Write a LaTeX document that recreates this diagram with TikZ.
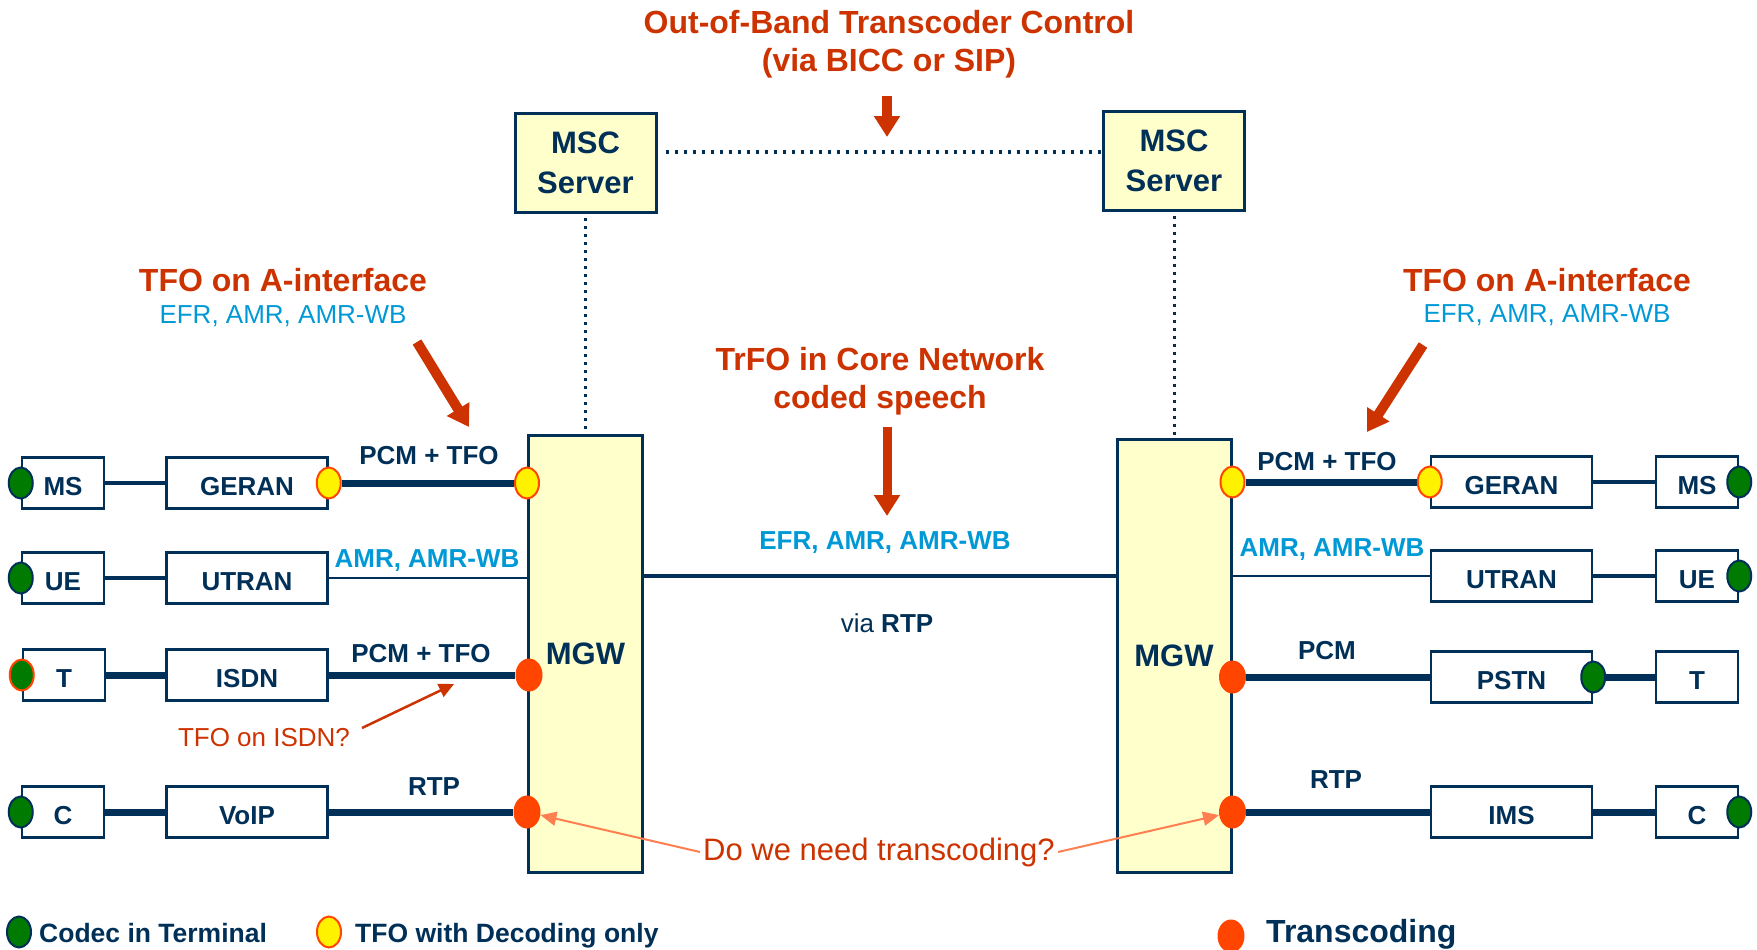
\documentclass[tikz,border=0pt]{standalone}
\usepackage{fontspec}
\setmainfont{Liberation Sans}
\usetikzlibrary{shapes.geometric,arrows.meta}

\definecolor{navy}{RGB}{0,48,87}
\definecolor{hdred}{RGB}{204,51,0}
\definecolor{codecblue}{RGB}{0,153,214}
\definecolor{paleyel}{RGB}{255,255,204}
\definecolor{termgreen}{RGB}{0,122,0}
\definecolor{tcorange}{RGB}{255,69,0}
\definecolor{hintcoral}{RGB}{255,127,80}

\begin{document}
\begin{tikzpicture}[x=1pt,y=-1pt,
  box/.style={draw=navy, line width=2.5pt, fill=white, inner sep=0pt, text=navy,
    font=\bfseries\fontsize{26}{30}\selectfont, minimum height=51pt,
    text height=25pt, text depth=0pt},
  smallbox/.style={box, minimum width=82pt},
  widebox/.style={box, minimum width=161pt},
  server/.style={draw=navy, line width=3pt, fill=paleyel, text=navy,
    font=\bfseries\fontsize{31}{40}\selectfont, align=center,
    minimum width=141pt, minimum height=99pt, inner sep=0pt},
  gateway/.style={draw=navy, line width=3pt, fill=paleyel, text=navy,
    font=\bfseries\fontsize{31}{36}\selectfont, minimum width=114pt, inner sep=0pt},
  codecdot/.style={ellipse, draw=navy, line width=2pt, fill=termgreen,
    minimum width=24pt, minimum height=31pt, inner sep=0pt},
  tfodot/.style={ellipse, draw=tcorange, line width=2pt, fill=yellow,
    minimum width=24pt, minimum height=31pt, inner sep=0pt},
  tcdot/.style={ellipse, fill=tcorange, minimum width=27pt, minimum height=33pt, inner sep=0pt},
  lbl/.style={text=navy, font=\bfseries\fontsize{26}{30}\selectfont, inner sep=0pt,
    text height=18.7pt, text depth=0pt},
  codeclbl/.style={lbl, text=codecblue},
  heading/.style={text=hdred, font=\bfseries\fontsize{32}{38}\selectfont, align=center, inner sep=0pt},
  codecnote/.style={text=codecblue, font=\fontsize{26}{30}\selectfont, inner sep=0pt},
  note/.style={text=hdred, font=\fontsize{26}{30}\selectfont, inner sep=0pt},
  heavy/.style={navy, line width=7pt},
  medium/.style={navy, line width=4pt},
  fine/.style={navy, line width=2pt},
  trunk/.style={navy, line width=3.5pt},
  sigdots/.style={navy, line width=3.5pt, dash pattern=on 3.5pt off 5.5pt},
  vdots/.style={navy, line width=3pt, dash pattern=on 2.5pt off 5.5pt},
  bigarrow/.style={hdred, line width=10pt, -{Triangle[width=25pt,length=21pt]}},
  hint/.style={hintcoral, line width=2pt, -{Triangle[width=14pt,length=16pt]}},
]
\useasboundingbox (0,0) rectangle (1757,950);

% ---------- control plane ----------
\node[server] (mscL) at (585.5,163) {MSC\\Server};
\node[server] (mscR) at (1174,161) {MSC\\Server};
\coordinate (sig) at (0,152);
\draw[sigdots, shorten <=8pt] (mscL.east |- sig) -- (mscR.west |- sig);

% ---------- media gateways ----------
\node[gateway, minimum height=437pt] (mgwL) at (585.5,653.5) {MGW};
\node[gateway, minimum height=433pt] (mgwR) at (1174,655.5) {MGW};
\draw[vdots, shorten <=4pt] (mscL) -- (mgwL);
\draw[vdots, shorten <=4pt] (mscR) -- (mgwR);

\coordinate (core) at (0,576);
\draw[trunk] (mgwL.east |- core) -- (mgwR.west |- core);

% ---------- left access rows ----------
\coordinate (rL1) at (0,483);
\coordinate (rL3) at (0,675);
\coordinate (rL4) at (0,812);

\node[smallbox] (msL)    at (63,483)  {MS};
\node[widebox]  (geranL) at (247,483) {GERAN};
\node[smallbox] (ueL)    at (63,578)  {UE};
\node[widebox]  (utranL) at (247,578) {UTRAN};
\node[smallbox] (tL)     at (64,675)  {T};
\node[widebox]  (isdnL)  at (247,675) {ISDN};
\node[smallbox] (cL)     at (63,812)  {C};
\node[widebox]  (voipL)  at (247,812) {VoIP};

\node[codecdot] (gL1) at (msL.west) {};
\node[codecdot] (gL2) at (ueL.west) {};
\node[codecdot, draw=tcorange] (gL3) at (tL.west) {};
\node[codecdot] (gL4) at (cL.west) {};
\node[tfodot] (yL1) at (geranL.east) {};
\node[tfodot] (yL2) at (mgwL.west |- rL1) {};
\node[tcdot] (oL1) at ([xshift=2pt]mgwL.west |- rL3) {};
\node[tcdot] (oL2) at (mgwL.west |- rL4) {};

\draw[medium] (msL) -- (geranL);
\draw[heavy] (yL1) -- (yL2);
\draw[medium] (ueL) -- (utranL);
\draw[fine] (utranL.east) -- (utranL.east -| mgwL.west);
\draw[heavy] (tL) -- (isdnL);
\draw[heavy] (isdnL) -- (oL1);
\draw[heavy] (cL) -- (voipL);
\draw[heavy] (voipL) -- (oL2);

\node[lbl] at (429,455) {PCM + TFO};
\node[codeclbl] at (427,558) {AMR, AMR-WB};
\node[lbl] at (421,653) {PCM + TFO};
\node[lbl] at (434,786) {RTP};

% ---------- right access rows ----------
\coordinate (rR1) at (0,482);
\coordinate (rR3) at (0,677);
\coordinate (rR4) at (0,812);

\node[widebox]  (geranR) at (1511.5,482) {GERAN};
\node[smallbox] (msR)    at (1697,482)   {MS};
\node[widebox]  (utranR) at (1511.5,576) {UTRAN};
\node[smallbox] (ueR)    at (1697,576)   {UE};
\node[widebox]  (pstnR)  at (1511.5,677) {PSTN};
\node[smallbox] (tR)     at (1697,677)   {T};
\node[widebox]  (imsR)   at (1511.5,812) {IMS};
\node[smallbox] (cR)     at (1697,812)   {C};

\node[tfodot] (yR1) at (mgwR.east |- rR1) {};
\node[tfodot] (yR2) at (geranR.west) {};
\node[tcdot] (oR1) at (mgwR.east |- rR3) {};
\node[tcdot] (oR2) at (mgwR.east |- rR4) {};
\node[codecdot] (gR1) at (msR.east) {};
\node[codecdot] (gR2) at (ueR.east) {};
\node[codecdot] (gR3) at (pstnR.east) {};
\node[codecdot] (gR4) at (cR.east) {};

\draw[heavy] (yR1) -- (yR2);
\draw[medium] (geranR) -- (msR);
\draw[fine] (utranR.west -| mgwR.east) -- (utranR.west);
\draw[medium] (utranR) -- (ueR);
\draw[heavy] (oR1) -- (pstnR);
\draw[heavy] (gR3) -- (tR);
\draw[heavy] (oR2) -- (imsR);
\draw[heavy] (imsR) -- (cR);

\node[lbl] at (1327,461) {PCM + TFO};
\node[codeclbl] at (1332,547) {AMR, AMR-WB};
\node[lbl] at (1327,650) {PCM};
\node[lbl] at (1336,779) {RTP};

% ---------- core network labels ----------
\node[codeclbl] at (885,540) {EFR, AMR, AMR-WB};
\node[lbl, font=\fontsize{26}{30}\selectfont] at (887,623) {via \textbf{RTP}};

% ---------- headings and pointers ----------
\node[heading] (oob) at (889,44.5) {Out-of-Band Transcoder Control\\(via BICC or SIP)};
\coordinate (oobtail) at (887,96);
\coordinate (oobtip) at (887,137);
\draw[bigarrow] (oobtail) -- (oobtip);

\node[heading] (trfo) at (880,381.5) {TrFO in Core Network\\coded speech};
\coordinate (trfotail) at (887,427);
\coordinate (trfotip) at (887,516);
\draw[bigarrow, line width=9pt] (trfotail) -- (trfotip);

\node[heading] (aifL) at (283,280) {TFO on A-interface};
\node[codecnote] (aifcL) at (283,316) {EFR, AMR, AMR-WB};
\coordinate (aifLtail) at (417,342);
\coordinate (aifLtip) at (469,427);
\draw[bigarrow] (aifLtail) -- (aifLtip);

\node[heading] (aifR) at (1547,280) {TFO on A-interface};
\node[codecnote] (aifcR) at (1547,315) {EFR, AMR, AMR-WB};
\coordinate (aifRtail) at (1423,345);
\coordinate (aifRtip) at (1367,432);
\draw[bigarrow] (aifRtail) -- (aifRtip);

\node[note] (isdnq) at (264,738) {TFO on ISDN?};
\coordinate (isdnqtail) at (362,728);
\coordinate (isdnqtip) at (454,684);
\draw[hdred, line width=2.5pt, -{Triangle[width=14pt,length=15pt]}] (isdnqtail) -- (isdnqtip);

\node[note, font=\fontsize{31}{36}\selectfont, inner sep=3pt] (dwnt) at (879,852) {Do we need transcoding?};
\draw[hint] (dwnt.west) -- (oL2);
\draw[hint] (dwnt.east) -- (oR2);

% ---------- legend ----------
\node[codecdot] (legG) at (19,932) {};
\node[lbl, font=\bfseries\fontsize{26.5}{30}\selectfont, anchor=base west] (legGt) at (39,942) {Codec in Terminal};
\node[tfodot] (legY) at (329,932) {};
\node[lbl, font=\bfseries\fontsize{26.5}{30}\selectfont, anchor=base west] (legYt) at (355,942) {TFO with Decoding only};
\node[tcdot] (legO) at (1231,936) {};
\node[lbl, font=\bfseries\fontsize{32}{36}\selectfont, anchor=base west] (legOt) at (1266,942) {Transcoding};
\end{tikzpicture}
\end{document}
